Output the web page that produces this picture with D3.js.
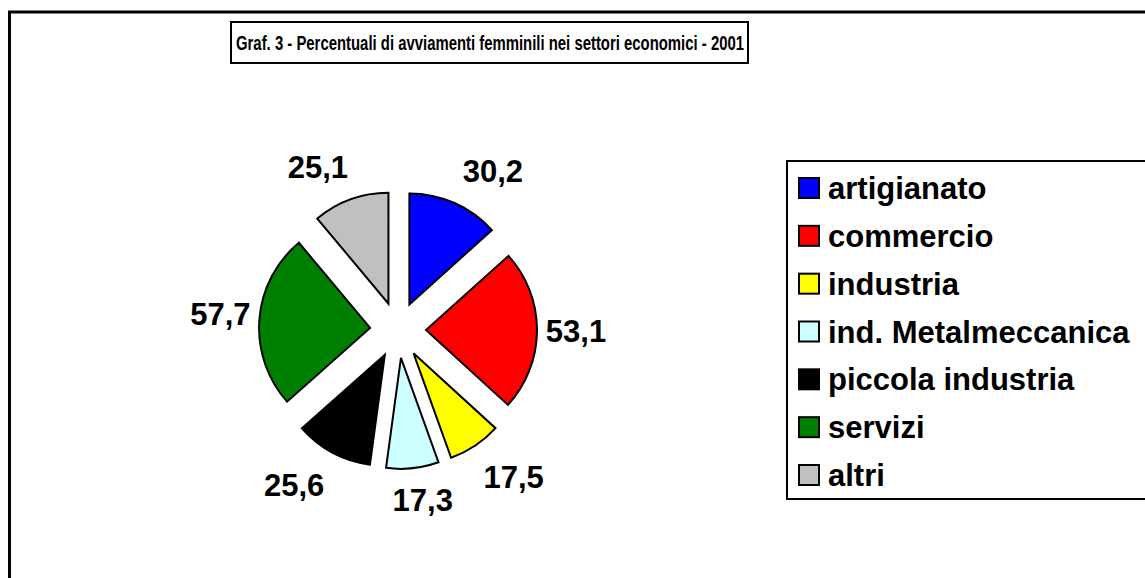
<!DOCTYPE html>
<html>
<head>
<meta charset="utf-8">
<script src="https://cdn.jsdelivr.net/npm/d3@7"></script>
<style>
  body { margin: 0; background: #fff; }
  svg { display: block; font-family: "Liberation Sans", Arial, sans-serif; }
</style>
</head>
<body>
<div id="chart"></div>
<script>
const WIDTH = 1145;
const HEIGHT = 578;

// chart data
const categories = ["artigianato", "commercio", "industria", "ind. Metalmeccanica", "piccola industria", "servizi", "altri"];
const values = [30.2, 53.1, 17.5, 17.3, 25.6, 57.7, 25.1];
const colors = ["#0000ff", "#ff0000", "#ffff00", "#ccffff", "#000000", "#008000", "#c0c0c0"];
const titleText = "Graf. 3 - Percentuali di avviamenti femminili nei settori economici - 2001";

const CENTER = {x: 398, y: 330};
const RADIUS = 111;
const EXPLODE = 28;
// label placement (excel style, pushed out from the slice)
const LABEL_R = 140;
const LABEL_DX = 38;
const LABEL_DY = 31;

// italian number format, comma as decimal separator
const itFormat = d3.formatLocale({decimal: ",", thousands: ".", grouping: [3], currency: ["", "€"]}).format(".1f");

const svg = d3.select('#chart')
    .append('svg')
    .attr('width', WIDTH)
    .attr('height', HEIGHT);

// outer chart frame (runs off the right and bottom edges)
svg.append('rect')
    .attr('x', 9.5)
    .attr('y', 12)
    .attr('width', WIDTH + 20)
    .attr('height', HEIGHT + 20)
    .attr('fill', '#fff')
    .attr('stroke', '#000')
    .attr('stroke-width', 3);

// title box
const title = svg.append('g');
title.append('rect')
    .attr('x', 231)
    .attr('y', 22)
    .attr('width', 517)
    .attr('height', 41)
    .attr('fill', '#fff')
    .attr('stroke', '#000')
    .attr('stroke-width', 2);
title.append('text')
    .attr('x', 236)
    .attr('y', 50)
    .attr('font-size', 21)
    .attr('font-weight', 'bold')
    .attr('textLength', 508)
    .attr('lengthAdjust', 'spacingAndGlyphs')
    .text(titleText);

// pie
const pie = d3.pie()
    .sort(null)
    .value(d => d);
const arcs = pie(values);
const arc = d3.arc()
    .innerRadius(0)
    .outerRadius(RADIUS);

const clamp = v => Math.max(-1, Math.min(1, v));

const slices = svg.append('g')
    .attr('transform', `translate(${CENTER.x}, ${CENTER.y})`);

slices.selectAll('.slice')
    .data(arcs)
    .enter()
    .append('path')
    .classed('slice', true)
        .attr('d', arc)
        .attr('transform', d => {
            const mid = (d.startAngle + d.endAngle) / 2;
            return `translate(${EXPLODE * Math.sin(mid)}, ${-EXPLODE * Math.cos(mid)})`;
        })
        .attr('fill', (d, i) => colors[i])
        .attr('stroke', '#000')
        .attr('stroke-width', 2)
        .attr('stroke-linejoin', 'miter');

// data labels
slices.selectAll('.label')
    .data(arcs)
    .enter()
    .append('text')
    .classed('label', true)
        .attr('x', d => {
            const mid = (d.startAngle + d.endAngle) / 2;
            return LABEL_R * Math.sin(mid) + LABEL_DX * clamp(Math.sin(mid) * 2.5);
        })
        .attr('y', d => {
            const mid = (d.startAngle + d.endAngle) / 2;
            return -LABEL_R * Math.cos(mid) - LABEL_DY * clamp(Math.cos(mid) * 2.5) + 11;
        })
        .attr('text-anchor', 'middle')
        .attr('font-size', 31)
        .attr('font-weight', 'bold')
        .text(d => itFormat(d.value));

// legend
const legend = svg.append('g');
legend.append('rect')
    .attr('x', 787)
    .attr('y', 161)
    .attr('width', 400)
    .attr('height', 338)
    .attr('fill', '#fff')
    .attr('stroke', '#000')
    .attr('stroke-width', 2);

const rowY = d3.scalePoint()
    .domain(categories)
    .range([188, 475]);

const items = legend.selectAll('.item')
    .data(categories)
    .enter()
    .append('g')
    .classed('item', true)
    .attr('transform', d => `translate(0, ${rowY(d)})`);

items.append('rect')
    .attr('x', 799)
    .attr('y', -10)
    .attr('width', 20)
    .attr('height', 20)
    .attr('fill', (d, i) => colors[i])
    .attr('stroke', '#000')
    .attr('stroke-width', 2);

items.append('text')
    .attr('x', 828)
    .attr('y', 11)
    .attr('font-size', 31)
    .attr('font-weight', 'bold')
    .text(d => d);
</script>
</body>
</html>
